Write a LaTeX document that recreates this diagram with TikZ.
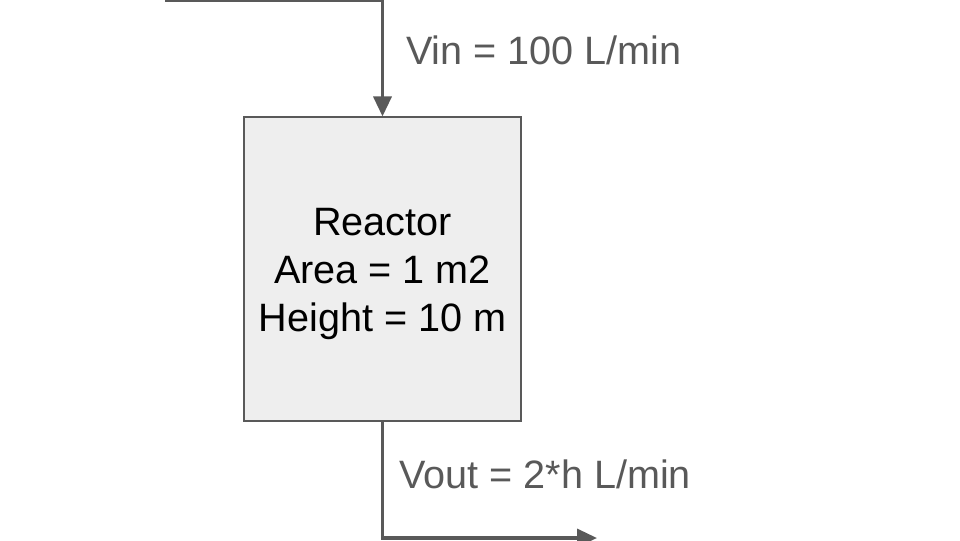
\documentclass[tikz,border=0pt]{standalone}
\usepackage{fontspec}
\setmainfont{Liberation Sans}
\usetikzlibrary{arrows.meta}
\definecolor{linegray}{HTML}{595959}
\definecolor{boxfill}{HTML}{EEEEEE}
\tikzset{
  flow/.style={draw=linegray, line width=2.6pt, -{Triangle[length=15pt,width=13.5pt]}},
  reactorbox/.style={draw=linegray, line width=0.8pt, fill=boxfill, minimum width=207.75pt, minimum height=228pt, inner sep=0pt},
  lbl/.style={text=linegray, font=\fontsize{29.7pt}{36pt}\selectfont, inner sep=0pt, anchor=base west},
}
\begin{document}
\begin{tikzpicture}[x=0.75pt,y=-0.75pt]
\useasboundingbox (0,0) rectangle (960,540);
\clip (0,0) rectangle (960,540);
\node[reactorbox] (box) at (382.5,269) {};
\node[align=center, inner sep=0pt, font=\fontsize{29.7pt}{36pt}\selectfont] (txt) at (382.5,274) {Reactor\\Area = 1 m2\\Height = 10 m};
\coordinate (src) at (165,0);
\coordinate (dst) at (597,538);
\draw[flow] (src) -| (box.north);
\draw[flow] (box.south) |- (dst);
\node[lbl] (vin) at (406,64) {Vin = 100 L/min};
\node[lbl] (vout) at (399,488) {Vout = 2*h L/min};
\end{tikzpicture}
\end{document}
